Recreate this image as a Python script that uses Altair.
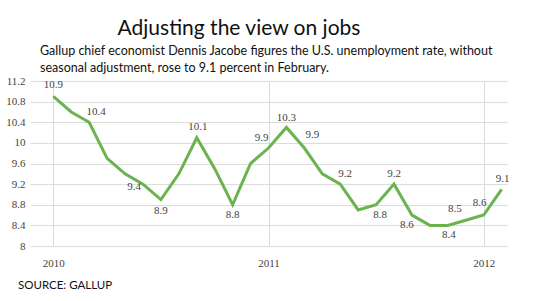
import altair as alt
import pandas as pd

# ---- data ----
months = ["2010-01", "2010-02", "2010-03", "2010-04", "2010-05", "2010-06",
          "2010-07", "2010-08", "2010-09", "2010-10", "2010-11", "2010-12",
          "2011-01", "2011-02", "2011-03", "2011-04", "2011-05", "2011-06",
          "2011-07", "2011-08", "2011-09", "2011-10", "2011-11", "2011-12",
          "2012-01", "2012-02"]
rates = [10.9, 10.6, 10.4, 9.7, 9.4, 9.2, 8.9, 9.4, 10.1, 9.5, 8.8, 9.6,
         9.9, 10.3, 9.9, 9.4, 9.2, 8.7, 8.8, 9.2, 8.6, 8.4, 8.4, 8.5,
         8.6, 9.1]
labels = ["10.9", "", "10.4", "", "9.4", "", "8.9", "", "10.1", "", "8.8", "",
          "9.9", "10.3", "9.9", "", "9.2", "", "8.8", "9.2", "8.6", "", "8.4", "8.5",
          "8.6", "9.1"]
year_ticks = [0, 12, 24]
year_labels = ["2010", "2011", "2012"]
y_ticks = [8, 8.4, 8.8, 9.2, 9.6, 10, 10.4, 10.8, 11.2]

title_text = "Adjusting the view on jobs"
subtitle_lines = ["Gallup chief economist Dennis Jacobe figures the U.S. unemployment rate,  without",
                  "seasonal adjustment, rose to 9.1 percent in February."]
source_text = "SOURCE: GALLUP"

# ---- label placement (style, kept apart from data): (dx, dy) per labelled month ----
label_offsets = {0: (0, -11), 2: (7, -10), 4: (9, 13), 6: (0, 11), 8: (1, -11),
                 10: (0, 10), 12: (-7, -10), 13: (0, -9), 14: (8, -13), 16: (5, -10),
                 18: (4, 10), 19: (0, -10), 20: (-5, 10), 22: (1, 10), 23: (-11, -11),
                 24: (-4, -12), 25: (1, -10)}

df = pd.DataFrame({"month": months, "rate": rates, "label": labels})
df["idx"] = range(len(df))

label_expr = "{" + ", ".join(f"'{t}': '{l}'" for t, l in zip(year_ticks, year_labels)) + "}[datum.value]"

x_enc = alt.X("idx:Q", scale=alt.Scale(domain=[-1.3, 25.3], nice=False, zero=False),
              axis=alt.Axis(values=year_ticks, labelExpr=label_expr, title=None,
                            grid=True, gridColor="#dcdcdc", gridWidth=1,
                            domain=False, ticks=False, labelPadding=11,
                            labelFont="Liberation Serif", labelFontSize=11,
                            labelColor="#444"))
y_enc = alt.Y("rate:Q", scale=alt.Scale(domain=[8, 11.2], nice=False, zero=False),
              axis=alt.Axis(values=y_ticks, format="~g", title=None,
                            grid=True, gridColor="#dcdcdc", gridWidth=1,
                            domain=False, ticks=False, labelPadding=5,
                            labelOverlap=False, tickCount=9,
                            labelFont="Liberation Serif", labelFontSize=11,
                            labelColor="#444"))

base = alt.Chart(df)
line = base.mark_line(color="#6bb34f", strokeWidth=3, strokeJoin="miter").encode(x=x_enc, y=y_enc)

layers = [line]
groups = {}
for i, off in label_offsets.items():
    groups.setdefault(off, []).append(i)
for (dx, dy), idxs in groups.items():
    cond = " || ".join(f"datum.idx == {i}" for i in idxs)
    layers.append(
        base.transform_filter(cond).mark_text(
            dx=dx, dy=dy, font="Liberation Serif", fontSize=11, color="#444",
            baseline="middle", align="center"
        ).encode(x=x_enc, y=y_enc, text="label:N")
    )

title_df = pd.DataFrame({"t": [title_text]})
layers.append(alt.Chart(title_df).mark_text(font="Lato", fontSize=21, color="#111",
                                            align="center", baseline="alphabetic")
              .encode(x=alt.value(209), y=alt.value(-46), text="t:N"))
sub_df = pd.DataFrame({"t": ["\n".join(subtitle_lines)]})
layers.append(alt.Chart(sub_df).mark_text(font="Lato", fontSize=12.5, color="#111",
                                          align="left", baseline="alphabetic",
                                          lineBreak="\n", lineHeight=17)
              .encode(x=alt.value(10), y=alt.value(-26), text="t:N"))
src_df = pd.DataFrame({"t": [source_text]})
layers.append(alt.Chart(src_df).mark_text(font="Lato", fontSize=11.5, color="#111",
                                          align="left", baseline="alphabetic")
              .encode(x=alt.value(-12), y=alt.value(208), text="t:N"))

chart = alt.layer(*layers).properties(
    width=477, height=165,
    autosize=alt.AutoSizeParams(type="none"),
    padding={"left": 30, "top": 81, "right": 53, "bottom": 55},
    background="white",
).configure_view(stroke=None)

chart.save("out.html", embed_options={"renderer": "svg", "actions": False})
